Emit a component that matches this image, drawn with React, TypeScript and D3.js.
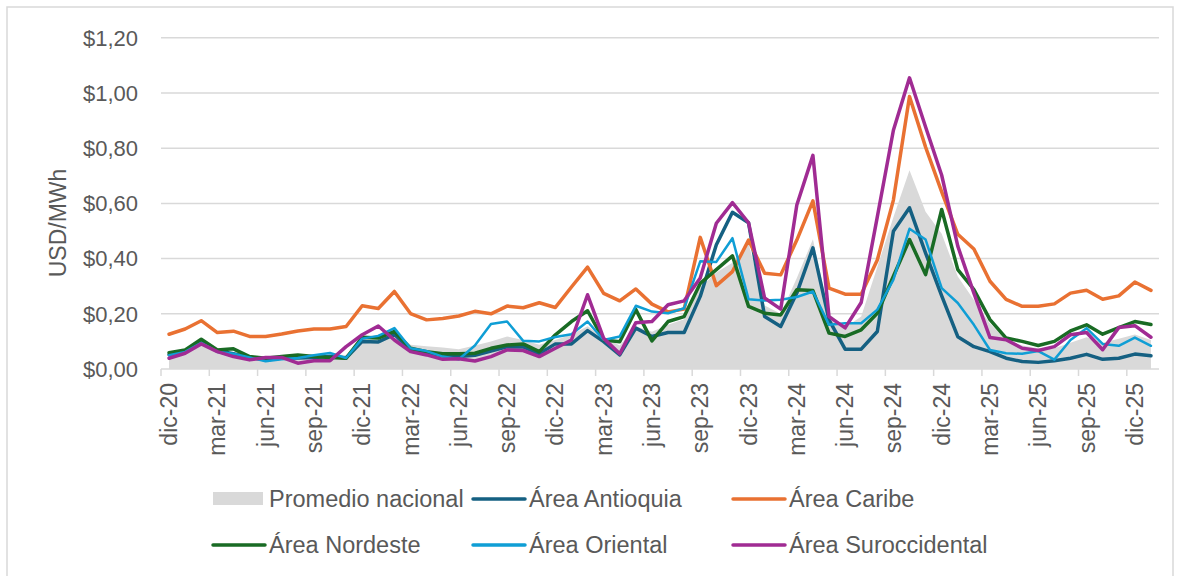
import React from 'react';
import * as d3 from 'd3';

const months = [
  'dic-20', 'ene-21', 'feb-21', 'mar-21', 'abr-21', 'may-21', 'jun-21', 'jul-21', 'ago-21', 'sep-21', 'oct-21', 'nov-21',
  'dic-21', 'ene-22', 'feb-22', 'mar-22', 'abr-22', 'may-22', 'jun-22', 'jul-22', 'ago-22', 'sep-22', 'oct-22', 'nov-22',
  'dic-22', 'ene-23', 'feb-23', 'mar-23', 'abr-23', 'may-23', 'jun-23', 'jul-23', 'ago-23', 'sep-23', 'oct-23', 'nov-23',
  'dic-23', 'ene-24', 'feb-24', 'mar-24', 'abr-24', 'may-24', 'jun-24', 'jul-24', 'ago-24', 'sep-24', 'oct-24', 'nov-24',
  'dic-24', 'ene-25', 'feb-25', 'mar-25', 'abr-25', 'may-25', 'jun-25', 'jul-25', 'ago-25', 'sep-25', 'oct-25', 'nov-25',
  'dic-25', 'ene-26',
];

const promedioNacional = [
  0.05, 0.065, 0.095, 0.068, 0.06, 0.05, 0.042, 0.046, 0.05, 0.05, 0.055, 0.05,
  0.112, 0.125, 0.14, 0.088, 0.082, 0.078, 0.072, 0.085, 0.1, 0.118, 0.105, 0.088,
  0.105, 0.125, 0.155, 0.115, 0.085, 0.155, 0.135, 0.16, 0.18, 0.295, 0.35, 0.385,
  0.455, 0.23, 0.2, 0.33, 0.47, 0.2, 0.15, 0.19, 0.37, 0.55, 0.72, 0.57,
  0.49, 0.335, 0.25, 0.165, 0.105, 0.085, 0.075, 0.075, 0.095, 0.115, 0.095, 0.11,
  0.125, 0.105,
];

const areaAntioquia = [
  0.052, 0.063, 0.095, 0.066, 0.055, 0.042, 0.033, 0.04, 0.04, 0.042, 0.045, 0.04,
  0.1, 0.098, 0.125, 0.07, 0.06, 0.048, 0.045, 0.05, 0.065, 0.08, 0.08, 0.055,
  0.091, 0.091, 0.139, 0.099, 0.051, 0.148, 0.118, 0.132, 0.132, 0.263, 0.45, 0.568,
  0.53, 0.19, 0.154, 0.275, 0.439, 0.178, 0.072, 0.072, 0.136, 0.499, 0.584, 0.42,
  0.265, 0.117, 0.081, 0.063, 0.039, 0.027, 0.024, 0.03, 0.039, 0.053, 0.035, 0.039,
  0.054, 0.048,
];

const areaCaribe = [
  0.126, 0.145, 0.175, 0.132, 0.137, 0.118, 0.118, 0.127, 0.138, 0.145, 0.145, 0.154,
  0.229, 0.219, 0.281, 0.201, 0.178, 0.183, 0.192, 0.209, 0.2, 0.228, 0.222, 0.24,
  0.223, 0.297, 0.369, 0.274, 0.247, 0.29, 0.235, 0.207, 0.217, 0.477, 0.302, 0.353,
  0.467, 0.347, 0.341, 0.467, 0.609, 0.293, 0.271, 0.271, 0.395, 0.612, 0.987, 0.804,
  0.642, 0.488, 0.435, 0.318, 0.252, 0.227, 0.227, 0.236, 0.275, 0.285, 0.253, 0.265,
  0.315, 0.285,
];

const areaNordeste = [
  0.059, 0.069, 0.108, 0.069, 0.073, 0.045, 0.039, 0.045, 0.051, 0.045, 0.042, 0.039,
  0.115, 0.112, 0.136, 0.075, 0.063, 0.055, 0.055, 0.057, 0.075, 0.087, 0.091, 0.063,
  0.124, 0.172, 0.211, 0.105, 0.099, 0.215, 0.102, 0.172, 0.19, 0.31, 0.36, 0.41,
  0.227, 0.202, 0.196, 0.287, 0.284, 0.13, 0.118, 0.142, 0.202, 0.336, 0.469, 0.342,
  0.578, 0.36, 0.288, 0.179, 0.112, 0.1, 0.085, 0.1, 0.138, 0.16, 0.126, 0.15,
  0.172, 0.161,
];

const areaOriental = [
  0.05, 0.062, 0.095, 0.062, 0.055, 0.042, 0.028, 0.035, 0.04, 0.05, 0.058, 0.04,
  0.11, 0.12, 0.148, 0.075, 0.065, 0.045, 0.035, 0.085, 0.163, 0.172, 0.102, 0.1,
  0.116, 0.126, 0.172, 0.105, 0.118, 0.229, 0.208, 0.202, 0.22, 0.39, 0.388, 0.474,
  0.253, 0.248, 0.251, 0.261, 0.281, 0.16, 0.166, 0.166, 0.215, 0.324, 0.508, 0.469,
  0.293, 0.239, 0.16, 0.069, 0.057, 0.055, 0.065, 0.034, 0.105, 0.148, 0.091, 0.084,
  0.114, 0.084,
];

const areaSuroccidental = [
  0.039, 0.057, 0.091, 0.063, 0.045, 0.033, 0.042, 0.042, 0.021, 0.03, 0.03, 0.081,
  0.124, 0.156, 0.105, 0.063, 0.051, 0.035, 0.037, 0.029, 0.045, 0.069, 0.067, 0.045,
  0.075, 0.105, 0.269, 0.111, 0.055, 0.168, 0.172, 0.233, 0.247, 0.33, 0.528, 0.603,
  0.53, 0.257, 0.217, 0.594, 0.774, 0.19, 0.149, 0.241, 0.551, 0.865, 1.055, 0.877,
  0.702, 0.445, 0.275, 0.114, 0.106, 0.075, 0.067, 0.081, 0.124, 0.132, 0.07, 0.15,
  0.157, 0.115,
];

const yTicks = [0, 0.2, 0.4, 0.6, 0.8, 1.0, 1.2];
const xTickLabels = [
  'dic-20', 'mar-21', 'jun-21', 'sep-21', 'dic-21', 'mar-22', 'jun-22', 'sep-22', 'dic-22', 'mar-23', 'jun-23',
  'sep-23', 'dic-23', 'mar-24', 'jun-24', 'sep-24', 'dic-24', 'mar-25', 'jun-25', 'sep-25', 'dic-25',
];

const lineSeries = [
  { name: 'Área Antioquia', values: areaAntioquia, color: '#156082', width: 3.5 },
  { name: 'Área Caribe', values: areaCaribe, color: '#E97132', width: 3.5 },
  { name: 'Área Nordeste', values: areaNordeste, color: '#196B24', width: 3.5 },
  { name: 'Área Oriental', values: areaOriental, color: '#0F9ED5', width: 2.5 },
  { name: 'Área Suroccidental', values: areaSuroccidental, color: '#A02B93', width: 3.5 },
];

const GRID = '#d9d9d9';
const TEXT = '#595959';
const FONT = '"Liberation Sans", Arial, sans-serif';

export default function App() {
  const W = 1180;
  const H = 576;
  const x = d3.scaleBand<string>().domain(months).range([161, 1159]).paddingInner(0).paddingOuter(0);
  const y = d3.scaleLinear().domain([0, 1.2]).range([369, 37.8]);
  const cx = (i: number) => (x(months[i]) as number) + x.bandwidth() / 2;

  const area = d3
    .area<number>()
    .x((_, i) => cx(i))
    .y0(y(0))
    .y1((d) => y(d));

  const line = d3
    .line<number>()
    .x((_, i) => cx(i))
    .y((d) => y(d));

  const fmt = (v: number) => '$' + v.toFixed(2).replace('.', ',');

  const legendItems = [
    { name: 'Promedio nacional', type: 'area', color: '#D9D9D9', sx: 213, tx: 269, row: 0 },
    { name: 'Área Antioquia', type: 'line', color: '#156082', sx: 473, tx: 529, row: 0 },
    { name: 'Área Caribe', type: 'line', color: '#E97132', sx: 733, tx: 789, row: 0 },
    { name: 'Área Nordeste', type: 'line', color: '#196B24', sx: 213, tx: 269, row: 1 },
    { name: 'Área Oriental', type: 'line', color: '#0F9ED5', sx: 473, tx: 529, row: 1 },
    { name: 'Área Suroccidental', type: 'line', color: '#A02B93', sx: 733, tx: 789, row: 1 },
  ];
  const rowY = [499, 545];

  return (
    <svg
      width={W}
      height={H}
      style={{ position: 'absolute', left: 0, top: 0, background: '#fff' }}
      fontFamily={FONT}
    >
      <rect x={7} y={7} width={1166} height={600} fill="#fff" stroke={GRID} strokeWidth={1.5} />
      {yTicks.map((t) => (
        <g key={t}>
          {t > 0 && <line x1={161} x2={1159} y1={y(t)} y2={y(t)} stroke={GRID} strokeWidth={1.5} />}
          <text x={138} y={y(t)} dy="0.35em" textAnchor="end" fontSize={22} fill={TEXT}>
            {fmt(t)}
          </text>
        </g>
      ))}
      <text
        transform={`translate(66, 223) rotate(-90)`}
        textAnchor="middle"
        fontSize={23}
        fill={TEXT}
      >
        USD/MWh
      </text>

      <path d={area(promedioNacional) || ''} fill="#D9D9D9" stroke="none" />

      <line x1={161} x2={1159} y1={y(0)} y2={y(0)} stroke={GRID} strokeWidth={1.5} />
      {months.map((m, i) =>
        i % 3 === 0 ? (
          <line key={m} x1={x(m)} x2={x(m)} y1={y(0)} y2={y(0) + 7} stroke={GRID} strokeWidth={1.5} />
        ) : null
      )}
      {xTickLabels.map((m) => {
        const i = months.indexOf(m);
        return (
          <text
            key={m}
            transform={`translate(${cx(i)}, 383) rotate(-90)`}
            textAnchor="end"
            dy="0.35em"
            fontSize={23}
            fill={TEXT}
          >
            {m}
          </text>
        );
      })}

      {lineSeries.map((s) => (
        <path
          key={s.name}
          d={line(s.values) || ''}
          fill="none"
          stroke={s.color}
          strokeWidth={s.width}
          strokeLinejoin="round"
          strokeLinecap="round"
        />
      ))}

      {legendItems.map((it) => (
        <g key={it.name}>
          {it.type === 'area' ? (
            <rect x={it.sx} y={rowY[it.row] - 7} width={50} height={13} fill={it.color} />
          ) : (
            <line
              x1={it.sx}
              x2={it.sx + 52}
              y1={rowY[it.row]}
              y2={rowY[it.row]}
              stroke={it.color}
              strokeWidth={3.5}
              strokeLinecap="round"
            />
          )}
          <text x={it.tx} y={rowY[it.row]} dy="0.35em" fontSize={23.5} fill={TEXT}>
            {it.name}
          </text>
        </g>
      ))}
    </svg>
  );
}
